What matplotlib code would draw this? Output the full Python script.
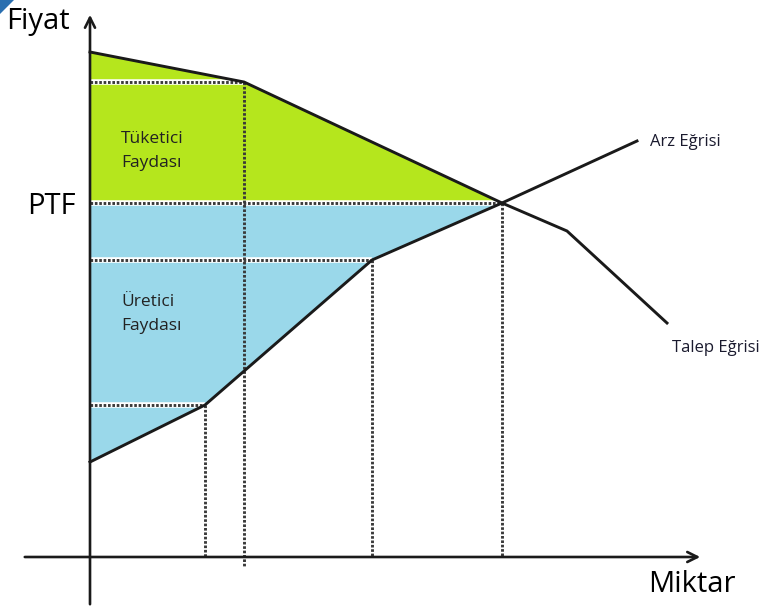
import matplotlib
matplotlib.use("Agg")
import matplotlib.pyplot as plt
import numpy as np

# Schematic knot points (diagram coordinates, y grows downward)
demand_x = [90, 244, 502, 567, 667]
demand_y = [52, 82, 203, 231, 323]
supply_x = [90, 205, 372, 502, 637]
supply_y = [462, 405, 260, 203, 141]
ptf_y = 203
eq_x = 502
ref_h = [(82, 244), (203, 502), (260, 372), (405, 205)]   # (price level, quantity)
ref_v = [(205, 405), (244, 82), (372, 260), (502, 203)]   # (quantity, price level)
labels_area = ["Tüketici\nFaydası", "Üretici\nFaydası"]
curve_labels = ["Arz Eğrisi", "Talep Eğrisi"]
axis_labels = ["Fiyat", "Miktar", "PTF"]

plt.rcParams['font.family'] = ['Open Sans', 'DejaVu Sans']
fig = plt.figure(figsize=(7.66, 6.11), dpi=100)
ax = fig.add_axes([0, 0, 1, 1])
ax.set_xlim(0, 766)
ax.set_ylim(611, 0)
ax.axis('off')

GREEN = '#b5e61d'
BLUE = '#9ad8ea'

# fills
xs = np.linspace(90, eq_x, 400)
dy = np.interp(xs, demand_x, demand_y)
sy = np.interp(xs, supply_x, supply_y)
ax.fill_between(xs, dy, ptf_y, color=GREEN, lw=0, zorder=1)
ax.fill_between(xs, ptf_y, sy, color=BLUE, lw=0, zorder=1)

# dotted reference lines
axis_x, axis_y = 90, 557
DOT = (0, (0.9, 0.6))
for yv, xe in ref_h:
    ax.plot([axis_x, xe], [yv, yv], color='white', lw=4.0, zorder=2, solid_capstyle='butt')
    ax.plot([axis_x, xe], [yv, yv], color='#3a3a3a', lw=2.1, ls=DOT, zorder=3)
for xv, yt in ref_v:
    yb = 566 if xv == 244 else axis_y
    ax.plot([xv, xv], [yt, yb], color='#3a3a3a', lw=2.1, ls=DOT, zorder=3)

# curves
ax.plot(demand_x, demand_y, color='#1a1a1a', lw=2.1, zorder=4, solid_joinstyle='miter')
ax.plot(supply_x, supply_y, color='#1a1a1a', lw=2.1, zorder=4, solid_joinstyle='miter')

# axes with arrows
ax.annotate('', xy=(axis_x, 12), xytext=(axis_x, 607),
            arrowprops=dict(arrowstyle='->', lw=1.9, color='#1a1a1a',
                            mutation_scale=18), zorder=5)
ax.annotate('', xy=(703, axis_y), xytext=(22, axis_y),
            arrowprops=dict(arrowstyle='->', lw=1.9, color='#1a1a1a',
                            mutation_scale=18), zorder=5)

# text
ax.text(6, 22, axis_labels[0], fontsize=21, va='center', ha='left', color='black')
ax.text(736, 584, axis_labels[1], fontsize=21, va='center', ha='right', color='black')
ax.text(76, 206, axis_labels[2], fontsize=21, va='center', ha='right', color='black')
ax.text(121, 151, labels_area[0], fontsize=12.5, va='center', ha='left',
        color='#222222', linespacing=1.65)
ax.text(121, 314, labels_area[1], fontsize=12.5, va='center', ha='left',
        color='#222222', linespacing=1.65)
ax.text(650, 142, curve_labels[0], fontsize=12, va='center', ha='left', color='#1a1a2e')
ax.text(672, 348, curve_labels[1], fontsize=12, va='center', ha='left', color='#1a1a2e')

# corner decoration
ax.fill([0, 14, 0], [0, 0, 14], color='#2a6fb0', lw=0)

fig.savefig('out.png', dpi=100)
